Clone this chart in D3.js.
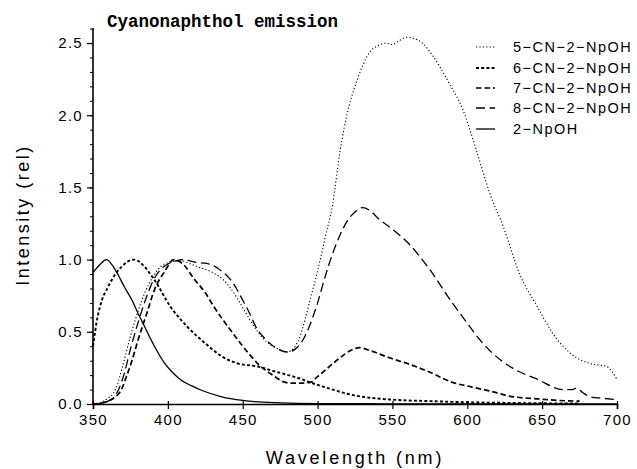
<!DOCTYPE html>
<html>
<head>
<meta charset="utf-8">
<script src="https://cdn.jsdelivr.net/npm/d3@7"></script>
<style>
  html, body { margin: 0; padding: 0; background: #fff; }
  svg { display: block; }
</style>
</head>
<body>
<svg id="chart" width="637" height="469"></svg>
<script>
// ---- data ----
const title = "Cyanonaphthol emission";
const xLabel = "Wavelength (nm)";
const yLabel = "Intensity (rel)";
const xTicks = [350, 400, 450, 500, 550, 600, 650, 700];
const yTicks = [0.0, 0.5, 1.0, 1.5, 2.0, 2.5];
const seriesNames = ["5\u2212CN\u22122\u2212NpOH", "6\u2212CN\u22122\u2212NpOH", "7\u2212CN\u22122\u2212NpOH", "8\u2212CN\u22122\u2212NpOH", "2\u2212NpOH"];

const nm5  = [350,355,360,365,370,375,380,385,390,395,400,405,410,415,420,430,436,442,451,455,460,466,472,480,485,488,492,495,500,505,510,515,520,525,530,535,540,546,550,555,560,565,570,577,588,597,606,615,624,635,647,657,669,682,693,700];
const int5 = [0,0.01,0.04,0.1,0.27,0.47,0.64,0.78,0.88,0.95,0.98,0.99,0.99,0.97,0.95,0.91,0.87,0.8,0.65,0.58,0.5,0.43,0.39,0.36,0.4,0.46,0.6,0.72,0.92,1.15,1.38,1.75,2.02,2.2,2.34,2.44,2.48,2.5,2.49,2.52,2.54,2.53,2.5,2.41,2.22,2.04,1.76,1.46,1.23,0.9,0.67,0.49,0.35,0.28,0.26,0.17];

const nm6  = [350,353,356,360,365,369,373,377,381,384.5,391,402,413,425,436,447,460,470,477,487,495,510,522,530,550,575,600,625,650,675];
const int6 = [0.4,0.6,0.72,0.81,0.9,0.95,0.985,1.0,0.985,0.95,0.86,0.67,0.535,0.42,0.33,0.28,0.26,0.23,0.21,0.18,0.15,0.1,0.065,0.05,0.03,0.02,0.012,0.008,0.005,0.003];

const nm7  = [350,355,360,365,369,372,376,380,386,391,398,404,410,418,425,431,442,454,460,470,477,482,490,495,500,508,515,522,528,535,548,560,575,590,602,615,628,648,660,675];
const int7 = [0,0.005,0.02,0.05,0.1,0.18,0.3,0.44,0.63,0.79,0.92,1.0,0.97,0.86,0.77,0.67,0.51,0.35,0.28,0.2,0.155,0.145,0.145,0.15,0.19,0.26,0.32,0.37,0.39,0.37,0.32,0.28,0.22,0.15,0.12,0.09,0.055,0.035,0.025,0.02];

const nm8  = [350,355,360,365,370,375,380,385,390,395,400,405,410,415,420,425,430,436,442,451,455,458,466,472,480,485,490,495,500,505,510,515,520,525,530,535,540,550,560,575,590,600,608,615,630,647,664,670,673,677,682,690,700];
const int8 = [0,0.005,0.02,0.06,0.18,0.38,0.56,0.72,0.85,0.93,0.97,0.99,1.0,0.99,0.98,0.975,0.96,0.92,0.86,0.7,0.62,0.55,0.44,0.39,0.36,0.38,0.44,0.55,0.7,0.88,1.04,1.17,1.27,1.33,1.36,1.34,1.29,1.21,1.12,0.93,0.7,0.56,0.45,0.37,0.25,0.17,0.1,0.1,0.11,0.08,0.05,0.04,0.03];

const nmS  = [350,355,359,363,367,371,376,380,384.5,391,398,404,409,416,422,436,450,458,475,500,550,600,650,700];
const intS = [0.91,0.97,1.0,0.96,0.89,0.81,0.72,0.63,0.535,0.4,0.28,0.21,0.165,0.125,0.097,0.05,0.025,0.016,0.008,0.003,0.001,0,0,0];

const seriesX = [nm5, nm6, nm7, nm8, nmS];
const seriesY = [int5, int6, int7, int8, intS];

// ---- styles ----
const styles = [
  {dash: "1.2,2.2", width: 1.1},
  {dash: "3,2.2", width: 1.9},
  {dash: "5.5,3", width: 1.7},
  {dash: "9,4.5", width: 1.3},
  {dash: null, width: 1.3}
];

const svg = d3.select("#chart");
const x = d3.scaleLinear().domain([350, 700]).range([93, 617]);
const y = d3.scaleLinear().domain([0, 2.6]).range([404, 28.6]);

const sansFont = "'Liberation Sans', Arial, sans-serif";

// axes
const xAxis = d3.axisBottom(x).tickValues(xTicks).tickSize(5).tickPadding(5).tickFormat(d3.format("d"));
const gx = svg.append("g").attr("transform", "translate(0,404)").call(xAxis);
gx.select(".domain").attr("stroke", "#000").attr("stroke-width", 1.6);
gx.selectAll(".tick line").attr("stroke", "#000").attr("stroke-width", 1.2).attr("y1", -3);
gx.selectAll("text").attr("font-family", sansFont).attr("font-size", 15).attr("letter-spacing", "1.3px").attr("fill", "#000");

// minor y ticks
const yMinor = d3.range(0, 2.61, 0.1);
const yAxisMinor = d3.axisLeft(y).tickValues(yMinor).tickSize(3).tickFormat("");
const gym = svg.append("g").attr("transform", "translate(93,0)").call(yAxisMinor);
gym.select(".domain").remove();
gym.selectAll(".tick line").attr("stroke", "#000").attr("stroke-width", 1);

const yAxis = d3.axisLeft(y).tickValues(yTicks).tickSize(6).tickPadding(4).tickFormat(d3.format(".1f"));
const gy = svg.append("g").attr("transform", "translate(93,0)").call(yAxis);
gy.select(".domain").attr("stroke", "#000").attr("stroke-width", 1.6).attr("d", "M0,404V28");
gy.selectAll(".tick line").attr("stroke", "#000").attr("stroke-width", 1.2);
gy.selectAll("text").attr("font-family", sansFont).attr("font-size", 15).attr("letter-spacing", "1.3px").attr("fill", "#000");

// lines
const line = d3.line().x(d => x(d[0])).y(d => y(d[1])).curve(d3.curveMonotoneX);
seriesX.forEach((xs, i) => {
  const pts = xs.map((v, j) => [v, seriesY[i][j]]);
  svg.append("path")
    .attr("d", line(pts))
    .attr("fill", "none")
    .attr("stroke", "#000")
    .attr("stroke-width", styles[i].width)
    .attr("stroke-dasharray", styles[i].dash)
    .attr("stroke-linejoin", "round");
});

// title
svg.append("text")
  .attr("x", 107).attr("y", 27)
  .attr("font-family", "'Liberation Mono', 'Courier New', monospace")
  .attr("font-weight", "bold")
  .attr("font-size", 17.5)
  .attr("fill", "#000")
  .text(title);

// axis titles
svg.append("text")
  .attr("x", 355).attr("y", 464)
  .attr("text-anchor", "middle")
  .attr("font-family", sansFont)
  .attr("font-size", 18)
  .attr("letter-spacing", "2.8px")
  .attr("fill", "#000")
  .text(xLabel);

svg.append("text")
  .attr("transform", "translate(29,215) rotate(-90)")
  .attr("text-anchor", "middle")
  .attr("font-family", sansFont)
  .attr("font-size", 18)
  .attr("letter-spacing", "2.5px")
  .attr("fill", "#000")
  .text(yLabel);

// legend
const legY = [47, 68, 88, 108, 129];
const leg = svg.append("g");
seriesNames.forEach((name, i) => {
  leg.append("line")
    .attr("x1", 476).attr("x2", 495)
    .attr("y1", legY[i]).attr("y2", legY[i])
    .attr("stroke", "#000")
    .attr("stroke-width", styles[i].width)
    .attr("stroke-dasharray", styles[i].dash);
  leg.append("text")
    .attr("x", 513).attr("y", legY[i] + 5)
    .attr("font-family", sansFont)
    .attr("font-size", 14.5)
    .attr("letter-spacing", "1.5px")
    .attr("fill", "#000")
    .text(name);
});
</script>
</body>
</html>
